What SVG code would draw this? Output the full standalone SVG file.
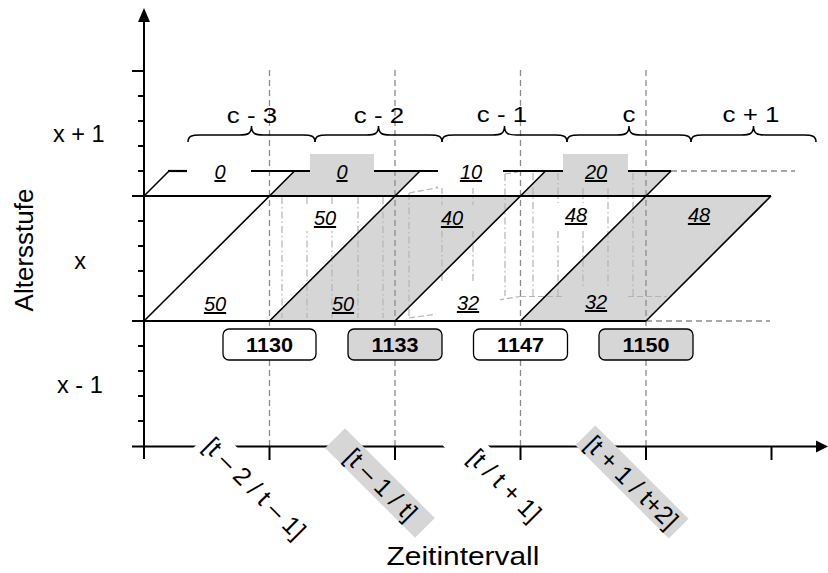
<svg xmlns="http://www.w3.org/2000/svg" width="828" height="573" viewBox="0 0 828 573">
  <style>
    .txt { font-family: "Liberation Sans", Arial, sans-serif; fill: #000; }
    .big { font-size: 22.5px; text-anchor: middle; }
    .val { font-size: 20px; font-style: italic; text-decoration: underline; text-anchor: middle; }
    .box { font-size: 20px; font-weight: bold; text-anchor: middle; }
    .rot { font-size: 25px; text-anchor: middle; }
    .shade { fill: #d6d6d6; }
    .axis { stroke: #000; stroke-width: 2; fill: none; }
    .tick { stroke: #000; stroke-width: 2; }
    .grid { stroke: #8c8c8c; stroke-width: 1.3; stroke-dasharray: 6 4; fill: none; }
    .edge { stroke: #000; stroke-width: 2.2; fill: none; }
    .diag { stroke: #000; stroke-width: 1.6; fill: none; }
    .ghost { stroke: #b4b4b4; stroke-width: 1.2; stroke-dasharray: 7 3 1.5 3; fill: none; }
    .ghostd { stroke: #b4b4b4; stroke-width: 1.2; stroke-dasharray: 6 3; fill: none; }
    .brace { stroke: #000; stroke-width: 1.5; fill: none; }
  </style>

  <!-- shaded cohort parallelograms -->
  <g id="cohort-cells">
    <polygon class="shade" points="269.5,196 395,196 420,171 294.5,171"/>
    <polygon class="shade" points="520.5,196 646,196 671,171 545.5,171"/>
    <polygon class="shade" points="269.5,321 395,321 520.5,196 395,196"/>
    <polygon class="shade" points="520.5,321 646,321 771,196 646,196"/>
  </g>

  <!-- faint perspective helper lines -->
  <g id="helper-lines">
    <line class="ghost" x1="282" y1="197" x2="282" y2="318"/>
    <line class="ghost" x1="307" y1="197" x2="307" y2="318"/>
    <line class="ghost" x1="332" y1="197" x2="332" y2="318"/>
    <line class="ghost" x1="358" y1="197" x2="358" y2="318"/>
    <line class="ghost" x1="383" y1="197" x2="383" y2="318"/>
    <line class="ghost" x1="409" y1="193" x2="409" y2="318"/>
    <line class="ghostd" x1="409" y1="193" x2="442" y2="187"/>
    <line class="ghostd" x1="436" y1="187" x2="448" y2="187"/>
    <line class="ghostd" x1="409" y1="318" x2="445" y2="313"/>
    <line class="ghost" x1="442" y1="187" x2="442" y2="283"/>
    <line class="ghost" x1="473" y1="187" x2="473" y2="283"/>
    <line class="ghostd" x1="505" y1="174" x2="518" y2="172"/>
    <line class="ghost" x1="505" y1="174" x2="505" y2="296"/>
    <line class="ghost" x1="533" y1="173" x2="533" y2="296"/>
    <line class="ghost" x1="558" y1="173" x2="558" y2="296"/>
    <line class="ghost" x1="583" y1="173" x2="583" y2="296"/>
    <line class="ghost" x1="608" y1="173" x2="608" y2="296"/>
    <line class="ghost" x1="633" y1="173" x2="633" y2="296"/>
    <line class="ghostd" x1="498" y1="300" x2="520" y2="296.5"/>
    <line class="ghostd" x1="520" y1="296.5" x2="667" y2="296.5"/>
  </g>

  <!-- label backgrounds -->
  <g id="label-backs">
    <rect x="187" y="154" width="64" height="34" fill="#fff"/>
    <rect x="310" y="154" width="64" height="34" class="shade"/>
    <rect x="438" y="154" width="65" height="34" fill="#fff"/>
    <rect x="563" y="154" width="65" height="34" class="shade"/>
    <rect x="293" y="205" width="64" height="26" fill="#fff"/>
    <rect x="419" y="205" width="64" height="26" class="shade"/>
    <rect x="436" y="290" width="64" height="26" fill="#fff"/>
    <rect x="543" y="203" width="64" height="26" fill="#fff"/>
    <rect x="563" y="289" width="64" height="26" class="shade"/>
  </g>

  <!-- time grid -->
  <g id="grid">
    <line class="grid" x1="269.5" y1="70" x2="269.5" y2="446"/>
    <line class="grid" x1="395" y1="70" x2="395" y2="446"/>
    <line class="grid" x1="520.5" y1="70" x2="520.5" y2="446"/>
    <line class="grid" x1="646" y1="70" x2="646" y2="446"/>
    <line class="grid" x1="671" y1="171" x2="795" y2="171"/>
    <line class="grid" x1="646" y1="321" x2="770" y2="321"/>
  </g>

  <!-- lexis lines -->
  <g id="connectors">
    <line class="edge" x1="144" y1="196" x2="771" y2="196"/>
    <line class="edge" x1="144" y1="321" x2="646" y2="321"/>
    <line class="edge" x1="168" y1="171" x2="187" y2="171"/>
    <line class="edge" x1="251" y1="171" x2="310" y2="171"/>
    <line class="edge" x1="374" y1="171" x2="438" y2="171"/>
    <line class="edge" x1="503" y1="171" x2="563" y2="171"/>
    <line class="edge" x1="628" y1="171" x2="671" y2="171"/>
    <line class="diag" x1="144" y1="196" x2="169" y2="171"/>
    <line class="diag" x1="269.5" y1="196" x2="294.5" y2="171"/>
    <line class="diag" x1="395" y1="196" x2="420" y2="171"/>
    <line class="diag" x1="520.5" y1="196" x2="545.5" y2="171"/>
    <line class="diag" x1="646" y1="196" x2="671" y2="171"/>
    <line class="diag" x1="144" y1="321" x2="269.5" y2="196"/>
    <line class="diag" x1="269.5" y1="321" x2="395" y2="196"/>
    <line class="diag" x1="395" y1="321" x2="520.5" y2="196"/>
    <line class="diag" x1="520.5" y1="321" x2="646" y2="196"/>
    <line class="diag" x1="646" y1="321" x2="771" y2="196"/>
  </g>

  <!-- cohort braces -->
  <g id="braces">
    <path class="brace" d="M188,142 C188,136 192,135 200,135 L239.5,135 C247.5,135 251.5,134 251.5,126 C251.5,134 255.5,135 263.5,135 L303,135 C311,135 315,136 315,142"/>
    <path class="brace" d="M315,142 C315,136 319,135 327,135 L366.5,135 C374.5,135 378.5,134 378.5,126 C378.5,134 382.5,135 390.5,135 L430,135 C438,135 442,136 442,142"/>
    <path class="brace" d="M442,142 C442,136 446,135 454,135 L492.5,135 C500.5,135 504.5,134 504.5,126 C504.5,134 508.5,135 516.5,135 L555,135 C563,135 567,136 567,142"/>
    <path class="brace" d="M567,142 C567,136 571,135 579,135 L617,135 C625,135 629,134 629,126 C629,134 633,135 641,135 L679,135 C687,135 691,136 691,142"/>
    <path class="brace" d="M691,142 C691,136 695,135 703,135 L741.5,135 C749.5,135 753.5,134 753.5,126 C753.5,134 757.5,135 765.5,135 L804,135 C812,135 816,136 816,142"/>
  </g>
  <g id="cohort-labels" class="txt big">
    <text transform="translate(252 123) scale(1.15 1)">c - 3</text>
    <text transform="translate(379 123) scale(1.15 1)">c - 2</text>
    <text transform="translate(502 122) scale(1.15 1)">c - 1</text>
    <text transform="translate(629 122) scale(1.15 1)">c</text>
    <text transform="translate(751 122) scale(1.15 1)">c + 1</text>
  </g>

  <!-- cell values -->
  <g id="values" class="txt val">
    <text x="220" y="179">0</text>
    <text x="342" y="179">0</text>
    <text x="471" y="179">10</text>
    <text x="596" y="179">20</text>
    <text x="215" y="311">50</text>
    <text x="325" y="225">50</text>
    <text x="343" y="311">50</text>
    <text x="452" y="225">40</text>
    <text x="468" y="310">32</text>
    <text x="576" y="222">48</text>
    <text x="596" y="309">32</text>
    <text x="699" y="222">48</text>
  </g>

  <!-- population totals -->
  <g id="node-1130">
    <rect x="223" y="329" width="93" height="31" rx="6" fill="#fff" stroke="#000" stroke-width="1.3"/>
    <text class="txt box" transform="translate(269.5 352) scale(1.08 1)">1130</text>
  </g>
  <g id="node-1133">
    <rect x="348" y="329" width="94" height="31" rx="6" class="shade" stroke="#000" stroke-width="1.3"/>
    <text class="txt box" transform="translate(395 352) scale(1.08 1)">1133</text>
  </g>
  <g id="node-1147">
    <rect x="473.5" y="329" width="94" height="31" rx="6" fill="#fff" stroke="#000" stroke-width="1.3"/>
    <text class="txt box" transform="translate(520.5 352) scale(1.08 1)">1147</text>
  </g>
  <g id="node-1150">
    <rect x="599" y="329" width="94" height="31" rx="6" class="shade" stroke="#000" stroke-width="1.3"/>
    <text class="txt box" transform="translate(646 352) scale(1.08 1)">1150</text>
  </g>

  <!-- axes -->
  <g id="axes">
    <line class="axis" x1="144" y1="20" x2="144" y2="459"/>
    <polygon points="144,8 138,22 150,22" fill="#000"/>
    <line class="axis" x1="132" y1="446.5" x2="818" y2="446.5"/>
    <polygon points="828,446.5 816,440.5 816,452.5" fill="#000"/>
    <g class="tick">
      <line x1="132" y1="71" x2="144" y2="71"/>
      <line x1="138" y1="96" x2="144" y2="96"/>
      <line x1="138" y1="121" x2="144" y2="121"/>
      <line x1="138" y1="146" x2="144" y2="146"/>
      <line x1="138" y1="171" x2="144" y2="171"/>
      <line x1="132" y1="196" x2="144" y2="196"/>
      <line x1="138" y1="221" x2="144" y2="221"/>
      <line x1="138" y1="246" x2="144" y2="246"/>
      <line x1="138" y1="271" x2="144" y2="271"/>
      <line x1="138" y1="296" x2="144" y2="296"/>
      <line x1="132" y1="321" x2="144" y2="321"/>
      <line x1="138" y1="346" x2="144" y2="346"/>
      <line x1="138" y1="371" x2="144" y2="371"/>
      <line x1="138" y1="396" x2="144" y2="396"/>
      <line x1="138" y1="421" x2="144" y2="421"/>
      <line x1="269.5" y1="446" x2="269.5" y2="460"/>
      <line x1="395" y1="446" x2="395" y2="460"/>
      <line x1="520.5" y1="446" x2="520.5" y2="460"/>
      <line x1="646" y1="446" x2="646" y2="460"/>
      <line x1="771.5" y1="446" x2="771.5" y2="460"/>
    </g>
  </g>

  <!-- interval labels -->
  <g id="interval-labels" class="txt rot">
    <g transform="translate(255,488) rotate(45)">
      <rect x="-72" y="-16" width="144" height="32" fill="#fff"/>
      <text x="0" y="9">[t – 2 / t – 1]</text>
    </g>
    <g transform="translate(380,483) rotate(45)">
      <rect x="-63.5" y="-14" width="127" height="28" class="shade"/>
      <text x="2" y="9">[t – 1 / t]</text>
    </g>
    <g transform="translate(505,485) rotate(45)">
      <rect x="-72" y="-16" width="144" height="32" fill="#fff"/>
      <text x="0" y="9">[t / t + 1]</text>
    </g>
    <g transform="translate(632,482) rotate(45)">
      <rect x="-66" y="-14" width="132" height="28" class="shade"/>
      <text x="0" y="9">[t + 1 / t+2]</text>
    </g>
  </g>

  <!-- axis titles and age levels -->
  <g id="axis-titles" class="txt">
    <text transform="translate(463 565) scale(1.15 1)" font-size="26" text-anchor="middle">Zeitintervall</text>
    <text transform="translate(33,250) rotate(-90)" font-size="26" text-anchor="middle">Altersstufe</text>
    <text x="53" y="141.5" font-size="23.5">x + 1</text>
    <text x="80" y="269" font-size="23.5" text-anchor="middle">x</text>
    <text x="57" y="393" font-size="23.5">x - 1</text>
  </g>
</svg>
